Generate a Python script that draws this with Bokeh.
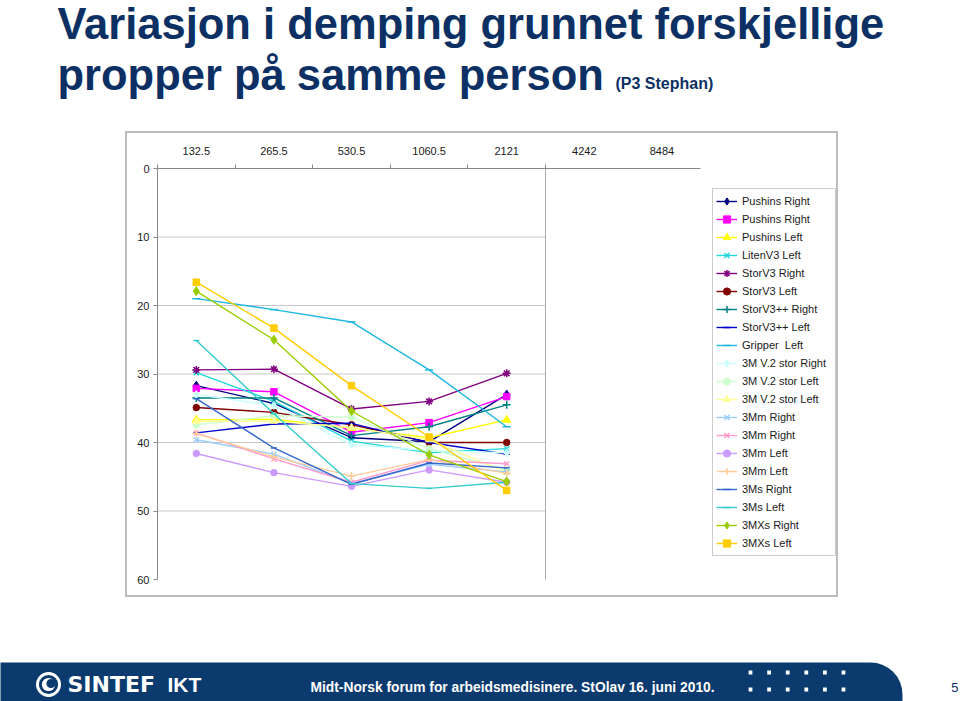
import math
from bokeh.plotting import figure
from bokeh.layouts import column, row
from bokeh.models import (Range1d, FixedTicker, Legend, LegendItem, Label,
                          BoxAnnotation, Spacer)
from bokeh.core.properties import value
from bokeh.embed import file_html
from bokeh.resources import INLINE

# ---------------- data ----------------
categories = ["132.5", "265.5", "530.5", "1060.5", "2121", "4242", "8484"]
y_ticks = [0, 10, 20, 30, 40, 50, 60]
grid_values = [10, 20, 30, 40, 50]

pushins_right_a = [31.7, 34.3, 39.3, 39.9, 33.0]
pushins_right_b = [32.1, 32.6, 38.5, 37.1, 33.3]
pushins_left = [36.7, 36.6, 37.9, 39.3, 36.7]
litenv3_left = [29.8, 34.0, 39.8, 41.5, 40.9]
storv3_right = [29.4, 29.3, 35.1, 34.0, 29.9]
storv3_left = [34.9, 35.6, 37.4, 40.0, 40.0]
storv3pp_right = [33.5, 33.5, 39.0, 37.7, 34.5]
storv3pp_left = [38.6, 37.3, 37.2, 40.0, 41.7]
gripper_left = [19.0, 20.6, 22.4, 29.4, 37.7]
m3v2_stor_right = [33.0, 34.6, 40.3, 41.2, 41.5]
m3v2_stor_left_a = [37.4, 36.1, 36.3, 40.9, 44.0]
m3v2_stor_left_b = [36.9, 36.9, 37.8, 39.6, 44.4]
m3mm_right_a = [39.6, 41.7, 46.0, 43.2, 44.3]
m3mm_right_b = [38.6, 42.4, 45.8, 42.6, 43.1]
m3mm_left_a = [41.6, 44.4, 46.4, 44.0, 45.8]
m3mm_left_b = [38.7, 42.1, 44.9, 42.5, 44.5]
m3ms_right = [33.6, 40.8, 46.1, 43.0, 43.7]
m3ms_left = [25.1, 35.8, 46.0, 46.7, 45.8]
m3mxs_right = [17.9, 25.0, 35.4, 41.8, 45.7]
m3mxs_left = [16.6, 23.3, 31.7, 39.2, 47.0]

series = [
    ("Pushins Right", pushins_right_a, "#000080", "diamond", 9),
    ("Pushins Right", pushins_right_b, "#FF00FF", "square", 6.5),
    ("Pushins Left", pushins_left, "#FFFF00", "triangle", 8),
    ("LitenV3 Left", litenv3_left, "#22D8DC", "x", 7),
    ("StorV3 Right", storv3_right, "#800080", "asterisk", 8),
    ("StorV3 Left", storv3_left, "#800000", "circle", 6.5),
    ("StorV3++ Right", storv3pp_right, "#008080", "cross", 8),
    ("StorV3++ Left", storv3pp_left, "#0000CC", "dash", 6),
    ("Gripper  Left", gripper_left, "#1EB8E0", "dash", 8),
    ("3M V.2 stor Right", m3v2_stor_right, "#CCFFFF", "diamond", 8),
    ("3M V.2 stor Left", m3v2_stor_left_a, "#CCFFCC", "circle", 6.5),
    ("3M V.2 stor Left", m3v2_stor_left_b, "#FFFF99", "triangle", 7),
    ("3Mm Right", m3mm_right_a, "#99CCFF", "x", 7),
    ("3Mm Right", m3mm_right_b, "#FF99CC", "x", 7),
    ("3Mm Left", m3mm_left_a, "#CC99FF", "circle", 6.5),
    ("3Mm Left", m3mm_left_b, "#FFCC99", "cross", 8),
    ("3Ms Right", m3ms_right, "#3366CC", "dash", 6),
    ("3Ms Left", m3ms_left, "#33CCCC", "dash", 6),
    ("3MXs Right", m3mxs_right, "#99CC00", "diamond", 9),
    ("3MXs Left", m3mxs_left, "#FFCC00", "square", 6.5),
]

FONT = "Liberation Sans"
NAVY = "#0c3063"
BAND = "#0b3a6e"
BOX = "#bdbdbd"
PAGE_W = 960

def canvas_fig(w, h):
    f = figure(width=w, height=h, output_backend="svg", toolbar_location=None,
               x_range=Range1d(0, w), y_range=Range1d(0, h),
               x_axis_location=None, y_axis_location=None,
               min_border_left=0, min_border_right=0, min_border_top=0, min_border_bottom=0)
    f.outline_line_color = None
    f.grid.visible = False
    f.border_fill_color = "white"
    f.background_fill_color = "white"
    return f

# ---------------- title strip (page y 0..131) ----------------
TH = 131
tfig = canvas_fig(PAGE_W, TH)

def ty(page_y):
    return TH - page_y

tfig.add_layout(Label(x=57, y=ty(23), text="Variasjon i demping grunnet forskjellige",
                      text_font=FONT, text_font_size="43.5px", text_font_style="bold",
                      text_color=NAVY, text_baseline="alphabetic"))
tfig.add_layout(Label(x=57, y=ty(74), text="propper på samme person",
                      text_font=FONT, text_font_size="43.5px", text_font_style="bold",
                      text_color=NAVY, text_baseline="alphabetic"))
tfig.add_layout(Label(x=615, y=ty(83), text="(P3 Stephan)",
                      text_font=FONT, text_font_size="16px", text_font_style="bold",
                      text_color=NAVY, text_baseline="alphabetic"))

# ---------------- chart box (page x 125..838, y 131..597) ----------------
CAT_W = 77.6          # px per category
UNIT_H = 6.85         # px per dB
CW, CH = 713, 466
AX_LEFT, AX_TOP = 32, 37   # offset of the plot-area origin inside the box

x_start = -AX_LEFT / CAT_W
x_end = x_start + CW / CAT_W
y_top = -AX_TOP / UNIT_H
y_bottom = y_top + CH / UNIT_H

p = figure(width=CW, height=CH, output_backend="svg", toolbar_location=None,
           x_range=Range1d(x_start, x_end), y_range=Range1d(y_bottom, y_top),
           x_axis_location="above", y_axis_location="left",
           min_border_left=0, min_border_right=0, min_border_top=0, min_border_bottom=0)
p.outline_line_color = BOX
p.outline_line_width = 3
p.xgrid.visible = False
p.ygrid.visible = False
p.background_fill_color = "white"
p.border_fill_color = "white"

n_data = len(pushins_right_a)
xs = [i + 0.5 for i in range(n_data)]

ax = p.xaxis[0]
ax.fixed_location = y_ticks[0]
ax.ticker = FixedTicker(ticks=[i + 0.5 for i in range(len(categories))],
                        minor_ticks=list(range(0, n_data + 1)))
ax.major_label_overrides = {i + 0.5: c for i, c in enumerate(categories)}
ax.bounds = (0, len(categories))
ax.major_tick_line_color = None
ax.major_tick_out = 0
ax.major_tick_in = 0
ax.minor_tick_out = 4
ax.minor_tick_in = 0
ax.minor_tick_line_color = "#888888"
ax.axis_line_color = "#888888"
ax.major_label_text_font = FONT
ax.major_label_text_font_size = "11px"
ax.major_label_text_color = "#1a1a1a"
ax.major_label_standoff = 10

ay = p.yaxis[0]
ay.fixed_location = 0
ay.ticker = FixedTicker(ticks=y_ticks)
ay.bounds = (y_ticks[0], y_ticks[-1])
ay.major_tick_out = 4
ay.major_tick_in = 0
ay.minor_tick_line_color = None
ay.major_tick_line_color = "#888888"
ay.axis_line_color = "#888888"
ay.major_label_text_font = FONT
ay.major_label_text_font_size = "11px"
ay.major_label_text_color = "#1a1a1a"
ay.major_label_standoff = 4

p.segment(x0=[0] * len(grid_values), x1=[n_data] * len(grid_values),
          y0=grid_values, y1=grid_values, line_color="#c8c8c8", line_width=1)
p.segment(x0=[n_data], x1=[n_data], y0=[y_ticks[0]], y1=[y_ticks[-1]],
          line_color="#aaaaaa", line_width=1)

items = []
for name, vals, color, marker, size in series:
    lr = p.line(xs, vals, line_color=color, line_width=1.4)
    lw = 1.5 if marker in ("x", "asterisk", "cross", "dash") else 1
    sr = p.scatter(xs, vals, marker=marker, size=size, line_color=color,
                   fill_color=color, line_width=lw)
    items.append(LegendItem(label=value(name), renderers=[lr, sr]))

legend = Legend(items=items, location=(587, 41), orientation="vertical",
                glyph_width=21, glyph_height=18, label_height=18, label_standoff=5,
                label_width=90, spacing=0, padding=3, margin=0,
                label_text_font=FONT, label_text_font_size="11px",
                label_text_color="#1a1a1a",
                border_line_color="#9a9a9a", border_line_width=1,
                background_fill_color="white", background_fill_alpha=1)
p.add_layout(legend)

# ---------------- footer strip (page y 597..701) ----------------
FH = 104
ffig = canvas_fig(PAGE_W, FH)

def fy(page_y):
    return 701 - page_y

ffig.add_layout(BoxAnnotation(left=-20, right=902, top=fy(662), bottom=-20,
                              fill_color=BAND, fill_alpha=1, line_color=None,
                              border_radius=(0, 32, 0, 0), level="underlay"))

dot_x = [750 + k * 18.6 for k in range(6)]
for row_y in (672, 689):
    ffig.scatter(dot_x, [fy(row_y)] * len(dot_x), marker="square", size=3.8,
                 fill_color="white", line_color=None)

# logo
ffig.annulus(x=[48], y=[fy(684)], inner_radius=9.6, outer_radius=12.5,
             fill_color="white", line_color=None)
ffig.circle(x=[48], y=[fy(684)], radius=6.6, fill_color="white", line_color=None)
ffig.circle(x=[50.5], y=[fy(683)], radius=4.6, fill_color=BAND, line_color=None)

ffig.add_layout(Label(x=67, y=fy(684), text="SINTEF", text_font="DejaVu Sans",
                      text_font_size="22px", text_font_style="bold", text_color="white",
                      text_baseline="alphabetic"))
ffig.add_layout(Label(x=167, y=fy(684), text="IKT", text_font=FONT,
                      text_font_size="21px", text_font_style="bold", text_color="white",
                      text_baseline="alphabetic"))
ffig.add_layout(Label(x=310, y=fy(687),
                      text="Midt-Norsk forum for arbeidsmedisinere. StOlav 16. juni 2010.",
                      text_font=FONT, text_font_size="13.8px", text_font_style="bold",
                      text_color="white", text_baseline="alphabetic"))
ffig.add_layout(Label(x=958, y=fy(687), text="5", text_font=FONT,
                      text_font_size="13px", text_color=NAVY, text_align="right",
                      text_baseline="alphabetic"))

layout = column(tfig,
                row(Spacer(width=125, height=CH), p, Spacer(width=PAGE_W - 125 - CW, height=CH)),
                ffig)

open("out.html", "w").write(file_html(layout, INLINE))
